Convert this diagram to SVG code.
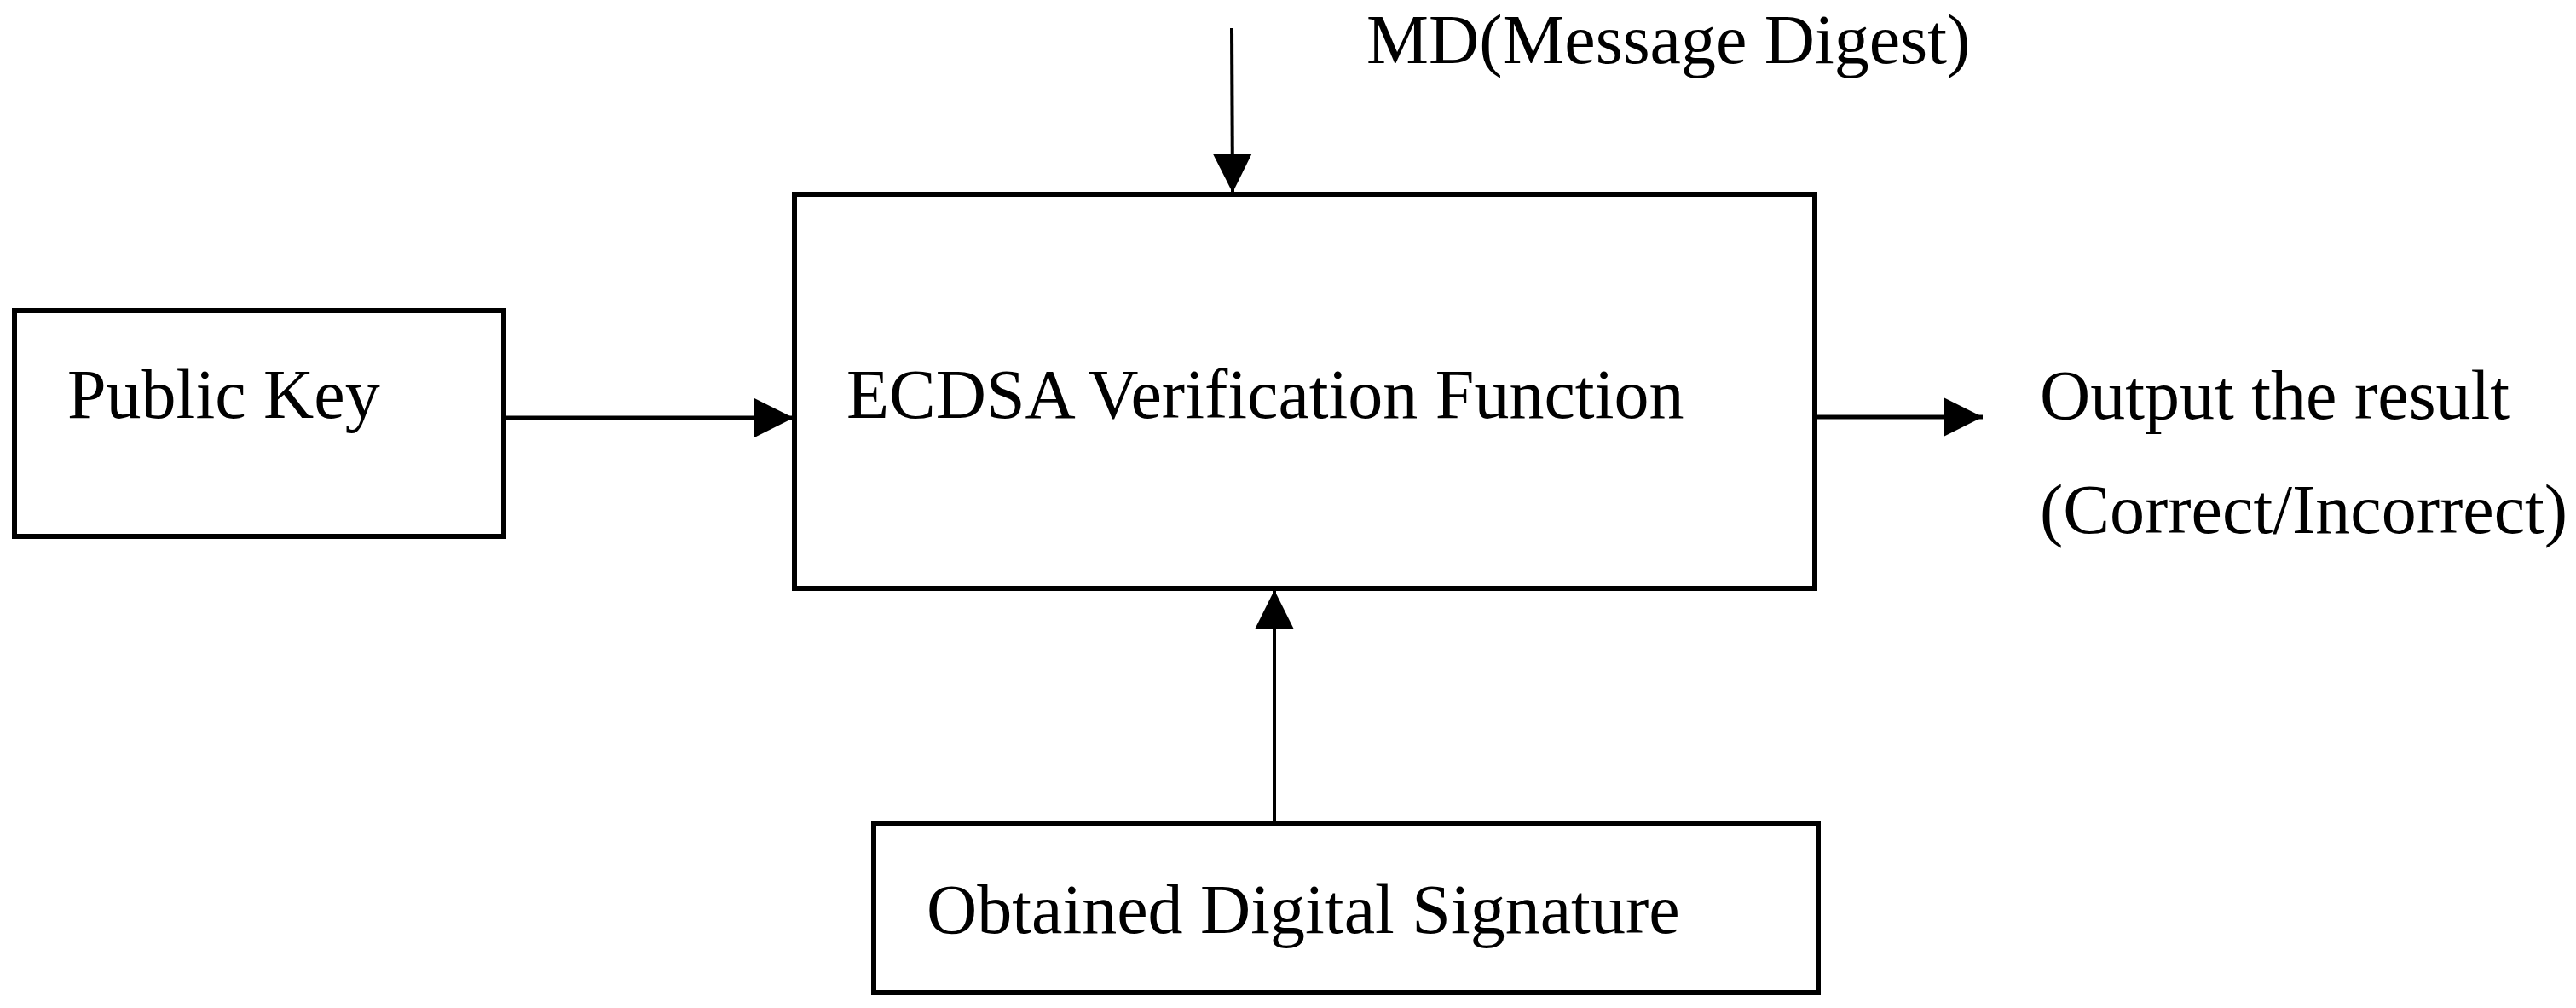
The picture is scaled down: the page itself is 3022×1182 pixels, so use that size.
<svg xmlns="http://www.w3.org/2000/svg" width="3022" height="1182" viewBox="0 0 3022 1182">
<style>
.box{fill:#fff;stroke:#000;stroke-width:6}
.lbl{font-family:"Liberation Serif","Times New Roman",serif;font-size:82px;fill:#000}
.con{stroke:#000;fill:none}
</style>
<defs>
<marker id="ah" markerUnits="userSpaceOnUse" markerWidth="46" markerHeight="46" viewBox="0 0 46 46" refX="46" refY="23" orient="auto">
<path d="M0,0 L46,23 L0,46 Z" fill="#000"/>
</marker>
</defs>
<rect width="3022" height="1182" fill="#fff"/>
<g id="connectors">
<line class="con" x1="1445" y1="33" x2="1446" y2="226" stroke-width="4" marker-end="url(#ah)"/>
<line class="con" x1="593" y1="490" x2="931" y2="490" stroke-width="5" marker-end="url(#ah)"/>
<line class="con" x1="2131" y1="489" x2="2326" y2="489" stroke-width="5" marker-end="url(#ah)"/>
<line class="con" x1="1495" y1="966" x2="1495" y2="692" stroke-width="4" marker-end="url(#ah)"/>
</g>
<g id="public-key">
<rect class="box" x="17" y="364" width="574" height="265"/>
<text class="lbl" x="79" y="490">Public Key</text>
</g>
<g id="ecdsa">
<rect class="box" x="932" y="228" width="1197" height="462"/>
<text class="lbl" x="993" y="490">ECDSA Verification Function</text>
</g>
<g id="signature">
<rect class="box" x="1025" y="966" width="1108" height="198"/>
<text class="lbl" x="1087" y="1094">Obtained Digital Signature</text>
</g>
<g id="md">
<text class="lbl" x="1603" y="74">MD(Message Digest)</text>
</g>
<g id="output">
<text class="lbl" x="2393" y="491">Output the result</text>
<text class="lbl" x="2393" y="625">(Correct/Incorrect)</text>
</g>
</svg>
